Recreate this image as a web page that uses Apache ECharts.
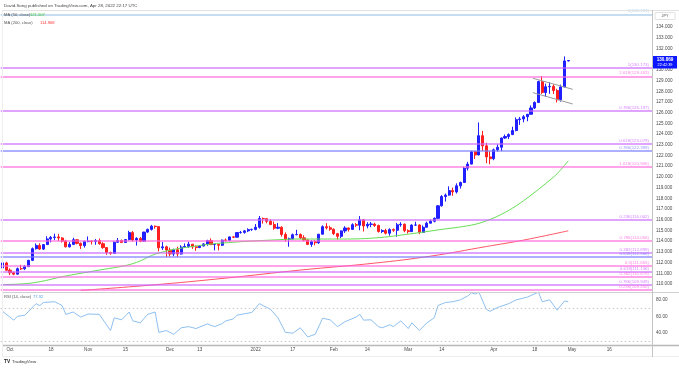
<!DOCTYPE html>
<html><head><meta charset="utf-8">
<script src="https://cdn.jsdelivr.net/npm/echarts@6/dist/echarts.min.js"></script>
<style>html,body{margin:0;padding:0;background:#fff}#c{width:679px;height:368px}</style>
</head><body><div id="c"></div>
<script>
// ---- categories: trading days from 2021-09-29 (generated weekdays) ----
const NCAT = 175;
const dates = (function(){const out=[];let t=Date.UTC(2021,8,29);while(out.length<NCAT){const d=new Date(t);const w=d.getUTCDay();if(w!==0&&w!==6)out.push(d.toISOString().slice(0,10));t+=86400000;}return out;})();

// ---- OHLC (Sep 29 2021 .. Apr 29 2022) ----
const open = [111.50,111.97,111.29,111.05,110.92,111.43,111.42,111.62,112.21,113.30,113.60,113.26,113.68,114.21,114.35,114.39,114.30,114.00,113.47,113.70,114.13,113.80,113.58,
113.96,114.00,113.96,114.06,113.76,113.40,112.94,112.86,113.90,114.06,113.88,114.15,114.80,114.11,114.26,114.00,114.85,115.10,115.40,115.36,113.38,113.47,
113.17,112.80,113.20,112.80,113.45,113.51,113.72,113.47,113.40,113.55,113.74,114.05,113.68,113.70,113.62,114.10,114.08,114.40,114.37,114.80,114.82,114.96,115.08,
115.10,115.30,116.12,116.10,115.85,115.55,115.21,115.30,114.63,114.19,114.21,114.60,114.62,114.31,114.11,113.70,113.96,113.85,114.65,115.35,115.25,
115.11,114.70,114.45,114.96,115.23,115.10,115.54,115.49,115.99,115.42,115.57,115.60,115.46,114.90,115.00,114.74,115.08,115.02,115.53,115.58,
114.98,114.89,115.50,115.51,114.82,115.30,115.68,115.86,116.13,117.30,118.17,118.30,118.72,118.60,119.17,119.48,120.82,121.20,122.34,122.05,123.85,122.90,121.87,
121.70,122.53,122.77,123.63,123.77,123.95,124.33,125.35,125.41,125.62,125.85,126.44,126.95,128.90,127.88,128.42,128.46,128.07,127.21,128.40,130.83];
const high = [112.08,112.07,111.45,111.15,111.54,111.79,111.78,112.25,113.41,113.79,113.80,113.73,114.46,114.48,114.70,114.69,114.38,114.13,113.91,114.32,114.18,113.87,114.06,
114.44,114.09,114.20,114.25,113.90,113.46,113.02,114.00,114.29,114.16,114.20,114.97,114.94,114.37,114.38,114.87,115.17,115.52,115.46,115.37,113.92,113.58,
113.40,113.30,113.48,113.62,113.79,113.95,113.73,113.60,113.63,113.82,114.13,114.26,113.76,113.72,114.15,114.25,114.43,114.46,114.83,114.96,115.05,115.20,115.17,
115.60,116.35,116.21,116.10,116.04,115.84,115.69,115.39,114.82,114.33,114.71,115.06,114.72,114.55,114.17,114.10,114.12,114.67,115.48,115.68,115.43,
115.19,114.78,115.00,115.40,115.27,115.67,115.69,116.34,116.06,115.77,115.79,115.71,115.55,115.11,115.16,115.20,115.19,115.70,115.77,115.65,
115.10,115.57,115.81,115.58,115.47,115.82,116.03,116.22,117.35,118.30,118.45,119.12,119.00,119.40,119.56,120.95,121.41,122.43,122.44,125.09,124.30,123.19,122.40,
122.65,123.04,123.68,123.96,124.07,124.69,125.56,125.60,125.77,125.88,126.68,127.05,128.99,129.41,128.71,128.84,128.64,128.23,128.62,131.25,130.90];
const low = [111.42,111.23,110.83,110.82,110.90,111.31,111.30,111.60,112.14,113.21,113.18,113.18,113.66,113.89,114.11,114.00,113.87,113.42,113.41,113.63,113.70,113.27,113.40,
113.90,113.69,113.66,113.67,113.29,112.72,112.73,112.85,113.86,113.83,113.84,114.07,113.98,113.59,113.91,113.97,114.76,114.99,115.16,113.05,113.17,112.52,
112.56,112.60,112.53,112.75,113.45,113.37,113.28,113.10,113.35,113.50,113.57,113.64,113.14,113.14,113.56,113.94,114.01,114.28,114.35,114.70,114.70,114.85,114.96,
115.01,115.17,115.64,115.67,115.50,115.06,115.12,114.43,113.96,113.48,114.18,114.55,114.19,114.00,113.63,113.47,113.61,113.74,114.64,115.09,114.97,
114.57,114.16,114.30,114.77,114.90,115.06,115.33,115.02,114.90,115.20,115.30,115.33,114.80,114.75,114.63,114.51,114.87,114.41,115.35,114.84,
114.71,114.88,115.42,114.65,114.82,115.28,115.64,115.76,116.08,117.23,117.70,118.25,118.24,118.45,118.91,119.45,120.60,121.17,121.68,122.03,122.43,121.28,121.18,
121.56,122.37,122.42,123.55,123.54,123.91,124.26,124.86,125.10,125.20,125.83,126.34,126.91,127.75,127.49,127.76,127.75,126.95,127.03,128.38,130.78];
const close = [111.97,111.29,111.05,110.92,111.43,111.42,111.62,112.21,113.30,113.60,113.26,113.68,114.21,114.35,114.39,114.30,114.00,113.47,113.70,114.13,113.80,113.58,113.96,
114.00,113.96,114.06,113.76,113.40,112.94,112.86,113.90,114.06,113.88,114.15,114.80,114.11,114.26,114.00,114.85,115.10,115.40,115.36,113.38,113.47,113.17,
112.80,113.20,112.80,113.45,113.51,113.72,113.47,113.40,113.55,113.74,114.05,113.68,113.70,113.62,114.10,114.08,114.40,114.37,114.80,114.82,114.96,115.08,115.10,
115.30,116.12,116.10,115.85,115.55,115.21,115.30,114.63,114.19,114.21,114.60,114.62,114.31,114.11,113.70,113.96,113.85,114.65,115.35,115.25,115.11,
114.70,114.45,114.96,115.23,115.10,115.54,115.49,115.99,115.42,115.57,115.60,115.46,114.90,115.00,114.74,115.08,115.02,115.53,115.58,114.98,
114.89,115.50,115.51,114.82,115.30,115.68,115.86,116.13,117.30,118.17,118.30,118.72,118.60,119.17,119.48,120.82,121.20,122.34,122.05,123.85,122.90,121.87,121.70,
122.53,122.77,123.63,123.77,123.95,124.33,125.35,125.41,125.62,125.85,126.44,126.95,128.90,127.88,128.42,128.46,128.07,127.21,128.40,130.83,130.87];

// ---- moving averages: [categoryIndex, value] ----
const ma50 = [[0,109.95],[8,110.1],[17,110.75],[26,111.3],[35,111.9],[42,112.9],[53,113.6],[62,113.9],[72,114.1],[80,114.2],[90,114.2],[100,114.3],[110,114.7],[117,115.05],[126,115.5],[130,115.9],[134,116.5],[138,117.3],[142,118.3],[146,119.4],[149,120.3],[152,121.507]];
const ma200 = [[21,109.4],[40,109.9],[60,110.55],[80,111.3],[100,111.95],[115,112.6],[130,113.5],[140,114.1],[152,114.968]];

// ---- RSI(14): [categoryIndex, value] ----
const rsi = [[0,66.3],[3,55.6],[4,60.2],[6,61.6],[9,75.6],[10,73.3],[11,77],[14,77.9],[16,73.3],[17,62.6],[19,65.4],[21,59.3],[23,63],[26,62.6],[29,43],[30,58.4],[32,56],[34,65.4],[35,54.7],[37,52.3],[39,62.6],[41,65.4],[42,40.7],[44,43],[46,38.4],[48,46.3],[50,47.7],[52,45.4],[55,51],[57,47.7],[59,51.4],[60,54.7],[62,57],[63,61.6],[67,64.9],[69,75.6],[72,68.6],[74,58.4],[76,40.7],[78,39.8],[80,46.3],[82,35.2],[84,38.4],[86,57.9],[88,56],[90,47.7],[92,53.7],[95,59.3],[96,62.6],[97,55.6],[99,56],[101,47.7],[102,46.3],[104,50],[105,47.7],[107,54.7],[109,45.4],[110,52.3],[112,43],[114,52.3],[116,58.4],[117,73.3],[119,77],[121,77.9],[123,80.2],[125,84.9],[126,88.6],[127,87.2],[128,89.5],[130,68.6],[131,66.3],[133,70.9],[136,75.6],[138,80.2],[141,83.5],[144,89.5],[145,77.9],[147,80.2],[149,67.7],[151,78.8],[152,77.92]];

// ---- fibonacci levels ----
const fibValues = [135.193,130.173,129.403,126.197,123.079,122.399,120.906,116.002,114.056,112.899,112.560,111.665,111.136,110.679,109.949,109.450];
const fibLabels = ['1(135.193)','1(130.173)','2.618(129.403)','0.786(126.197)','0.618(123.079)','0.786(122.399)','1.618(120.906)','0.236(116.002)','0.786(114.056)','0.382(112.899)','0.618(112.560)','0.5(111.665)','0.618(111.136)','0.382(110.679)','0.786(109.949)','0.236(109.450)'];
const fibColors = ['#9fc5e8','#cc66ff','#ff66dd','#cc66ff','#cc66ff','#7b7bff','#ff66dd','#cc66ff','#ff66dd','#cc66ff','#7b7bff','#ff66dd','#cc66ff','#ff66dd','#cc66ff','#ff66dd'];

// ---- channel lines: [categoryIndex, price] ----
const chanTop = [[142.5,129.21],[153.2,128.18]];
const chanBot = [[142.5,127.87],[153.2,126.81]];

// ---- axis ticks ----
const xTickDates = ['2021-10-01','2021-10-18','2021-11-01','2021-11-15','2021-12-01','2021-12-13','2022-01-03','2022-01-17','2022-02-01','2022-02-14','2022-03-01','2022-03-14','2022-04-01','2022-04-18','2022-05-02','2022-05-16'];
const xTickLabels = ['Oct','18','Nov','15','Dec','13','2022','17','Feb','14','Mar','14','Apr','18','May','16'];
const lastPrice = 130.869, lastCountdown = '22:42:39';
const ma50Last = '121.507', ma200Last = '114.968', rsiLast = '77.92';

const FONT = 'Liberation Sans, Arial, sans-serif';
const FS = 4.6, LFS = 4.1;
const tickMap = {}; xTickDates.forEach((d,i)=>tickMap[d]=xTickLabels[i]);
const candles = close.map((c,i)=>[open[i],c,low[i],high[i]]);

const chart = echarts.init(document.getElementById('c'), null, {renderer:'canvas'});
const GL = 0.7, GR = 27;
const option = {
  animation:false,
  backgroundColor:'#ffffff',
  grid:[
    {left:GL,right:GR,top:5.58,height:289.13},
    {left:GL,right:GR,top:283.5,height:66}
  ],
  xAxis:[
    {type:'category',gridIndex:0,data:dates,boundaryGap:true,show:false},
    {type:'value',gridIndex:0,min:-0.5,max:NCAT-0.5,show:false},
    {type:'category',gridIndex:1,data:dates,boundaryGap:true,offset:-4.5,
      axisLine:{show:false},axisTick:{show:false},
      axisLabel:{interval:(i,v)=>tickMap[v]!==undefined,formatter:(v)=>tickMap[v]||'',fontSize:FS,color:'#4a4a4a',fontFamily:FONT,margin:2.5}},
    {type:'value',gridIndex:1,min:-0.5,max:NCAT-0.5,show:false}
  ],
  yAxis:[
    {type:'value',gridIndex:0,position:'right',min:109,max:136,interval:1,splitLine:{show:false},axisLine:{show:false},axisTick:{show:false},
      axisLabel:{fontSize:FS,color:'#4a4a4a',fontFamily:FONT,margin:4,formatter:v=>(v>=110&&v<=134)?v.toFixed(3):''}},
    {type:'value',gridIndex:1,position:'right',min:20,max:100,interval:20,splitLine:{show:false},axisLine:{show:false},axisTick:{show:false},
      axisLabel:{fontSize:FS,color:'#4a4a4a',fontFamily:FONT,margin:4,formatter:v=>(v>=40&&v<=80)?v.toFixed(2):''}}
  ],
  series:[
    {type:'candlestick',xAxisIndex:0,yAxisIndex:0,data:candles,barWidth:2.6,
      itemStyle:{color:'#1f1fff',color0:'#ff1f1f',borderColor:'#1f1fff',borderColor0:'#ff1f1f',borderWidth:1},
      markLine:{silent:true,symbol:['none','none'],animation:false,
        data:fibValues.map((v,i)=>({yAxis:v,lineStyle:{color:fibColors[i],width:1.6,type:'solid',opacity:0.8},
          label:{show:true,position:'insideEndTop',formatter:fibLabels[i],color:fibColors[i],fontSize:4.4,fontFamily:FONT,distance:[3,1]}}))}
    },
    {type:'line',xAxisIndex:1,yAxisIndex:0,data:ma50,showSymbol:false,smooth:0.4,lineStyle:{color:'#66dd55',width:1},z:3},
    {type:'line',xAxisIndex:1,yAxisIndex:0,data:ma200,showSymbol:false,smooth:0.4,lineStyle:{color:'#ff5566',width:1},z:3},
    {type:'line',xAxisIndex:1,yAxisIndex:0,data:chanTop,showSymbol:false,lineStyle:{color:'#9a9a9a',width:1}},
    {type:'line',xAxisIndex:1,yAxisIndex:0,data:chanBot,showSymbol:false,lineStyle:{color:'#9a9a9a',width:1}},
    {type:'line',xAxisIndex:3,yAxisIndex:1,data:rsi,showSymbol:false,lineStyle:{color:'#8ec0f0',width:1},
      markLine:{silent:true,symbol:['none','none'],label:{show:false},
        data:[{yAxis:70},{yAxis:30}],lineStyle:{color:'#c8c8c8',type:[1.5,2.5],width:1}}}
  ],
  graphic:[
    {type:'line',shape:{x1:3,y1:10.5,x2:679,y2:10.5},style:{stroke:'#e2e2e2',lineWidth:1},z:50},
    {type:'line',shape:{x1:3,y1:292.5,x2:679,y2:292.5},style:{stroke:'#d0d0d0',lineWidth:1},z:50},
    {type:'line',shape:{x1:3,y1:345.5,x2:679,y2:345.5},style:{stroke:'#b8b8b8',lineWidth:1.5},z:50},
    {type:'line',shape:{x1:3,y1:356.5,x2:679,y2:356.5},style:{stroke:'#eeeeee',lineWidth:1},z:50},
    {type:'line',shape:{x1:652.5,y1:10,x2:652.5,y2:357},style:{stroke:'#c4c4c4',lineWidth:1},z:50},
    {type:'line',shape:{x1:2.5,y1:10,x2:2.5,y2:357},style:{stroke:'#eeeeee',lineWidth:1},z:50},
    {type:'text',x:4,y:3.6,style:{text:'David.Song published on TradingView.com, Apr 28, 2022 22:17 UTC',fontSize:4.4,fill:'#444',fontFamily:FONT},z:60},
    {type:'text',x:4,y:13.3,style:{text:'MA (50, close)',fontSize:LFS,fill:'#555',fontFamily:FONT},z:60},
    {type:'text',x:30,y:13.3,style:{text:ma50Last,fontSize:LFS,fill:'#44cc33',fontFamily:FONT},z:60},
    {type:'text',x:4,y:20.8,style:{text:'MA (200, close)',fontSize:LFS,fill:'#555',fontFamily:FONT},z:60},
    {type:'text',x:40,y:20.8,style:{text:ma200Last,fontSize:LFS,fill:'#ff3333',fontFamily:FONT},z:60},
    {type:'text',x:4,y:294.8,style:{text:'RSI (14, close)',fontSize:LFS,fill:'#555',fontFamily:FONT},z:60},
    {type:'text',x:33,y:294.8,style:{text:rsiLast,fontSize:LFS,fill:'#5aa0e8',fontFamily:FONT},z:60},
    {type:'rect',shape:{x:655,y:12.5,width:20,height:7,r:1},style:{fill:'#fff',stroke:'#cccccc',lineWidth:0.6},z:60},
    {type:'text',x:665,y:16,style:{text:'JPY',fontSize:3.8,fill:'#555',fontFamily:FONT,align:'center',verticalAlign:'middle'},z:61},
    {type:'rect',shape:{x:653,y:56,width:24,height:12.5},style:{fill:'#0d17ff'},z:60},
    {type:'text',x:665,y:59.7,style:{text:lastPrice.toFixed(3),fontSize:FS,fill:'#fff',fontFamily:FONT,align:'center',verticalAlign:'middle',fontWeight:'bold'},z:61},
    {type:'text',x:665,y:64.8,style:{text:lastCountdown,fontSize:3.8,fill:'#fff',fontFamily:FONT,align:'center',verticalAlign:'middle'},z:61},
    {type:'text',x:4,y:359.5,style:{text:'TV',fontSize:4.8,fill:'#222',fontWeight:'bold',fontFamily:FONT},z:60},
    {type:'text',x:12,y:359.7,style:{text:'TradingView',fontSize:4.4,fill:'#333',fontFamily:FONT},z:60}
  ]
};
chart.setOption(option);
</script></body></html>
